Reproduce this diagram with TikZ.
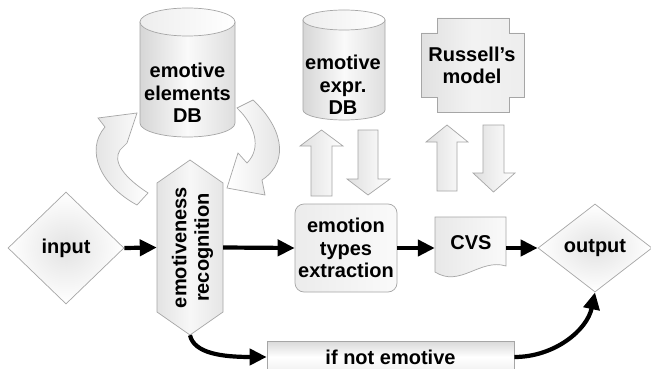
\documentclass[tikz,border=0pt]{standalone}
\usepackage{fontspec}
\setmainfont{Liberation Sans}
\usetikzlibrary{shapes.geometric,arrows.meta,calc}
\begin{document}
\begin{tikzpicture}[x=1pt,y=-1pt,
  lbl/.style={font=\fontsize{20}{22.5}\selectfont\bfseries, align=center, inner sep=0pt},
  edgecol/.style={draw=gray!70, line width=0.7pt},
  conn/.style={line width=4.2pt, -{Triangle[length=17pt,width=16pt]}},
  blkl/.style={edgecol, left color=gray!25, right color=white},
  blkr/.style={edgecol, left color=white, right color=gray!25},
  cylbody/.style={edgecol, left color=gray!32, right color=gray!26, middle color=gray!4},
  cyltop/.style={edgecol, left color=gray!14, right color=white},
  dia/.style={diamond, draw=gray!70, line width=0.7pt, inner sep=0pt, shading=radial, inner color=gray!22, outer color=white}
]
\useasboundingbox[fill=white] (0,0) rectangle (651,369);

% ---- cylinder 1: emotive elements DB
\path[cylbody] (140,22) -- (140,123) arc[start angle=180,end angle=0,x radius=47.5,y radius=14] -- (235,22) -- cycle;
\path[cyltop] (187.5,22) ellipse[x radius=47.5,y radius=14];
\node[lbl] (db1) at (187.5,93) {emotive\\elements\\DB};

% ---- cylinder 2: emotive expr. DB
\path[cylbody] (303,20) -- (303,110) arc[start angle=180,end angle=0,x radius=41,y radius=10] -- (385,20) -- cycle;
\path[cyltop] (344,20) ellipse[x radius=41,y radius=10];
\node[lbl] (db2) at (343,85) {emotive\\expr.\\DB};

% ---- Russell's model
\path[edgecol, left color=gray!24, right color=gray!14, middle color=gray!10]
  (437,18) -- (509,18) -- (509,33) -- (524,33) -- (524,97) -- (509,97) -- (509,112)
  -- (437,112) -- (437,97) -- (421,97) -- (421,33) -- (437,33) -- cycle;
\node[lbl] (russ) at (472,65.5) {Russell’s\\model};

% ---- curved block arrows around DB 1
\path[blkl] (137,205) .. controls (100,185) and (85,150) .. (105,127) -- (98,118) -- (137,113)
  -- (127,143) -- (120,150) .. controls (112,162) and (125,178) .. (148,193) -- cycle;
\path[blkr] (253,100) .. controls (280,125) and (292,160) .. (262,180) -- (265,195) -- (227,188)
  -- (238,153) -- (247,163) .. controls (262,148) and (255,125) .. (237,108) -- cycle;

% ---- straight block arrows
\path[blkl] (311,196) -- (311,146) -- (300,146) -- (321.5,130) -- (343,146) -- (332,146) -- (332,196) -- cycle;
\path[blkl] (358,130) -- (378,130) -- (378,179) -- (390,179) -- (368,195) -- (347,179) -- (358,179) -- cycle;
\path[blkl] (437,191) -- (437,142) -- (426,142) -- (447,125) -- (468,142) -- (457,142) -- (457,191) -- cycle;
\path[blkl] (483,125) -- (504,125) -- (504,173) -- (515,173) -- (493.5,192) -- (473,173) -- (483,173) -- cycle;

% ---- main row
\node[dia, lbl, aspect=1.04, minimum width=116pt, minimum height=112pt] (input) at (66,248) {input};

\path[edgecol, left color=gray!22, right color=gray!20, middle color=gray!6]
  (190,160) -- (223,183) -- (223,312) -- (190,335) -- (157,312) -- (157,183) -- cycle;
\node[minimum width=66pt, minimum height=175pt, inner sep=0pt] (rec) at (190,247.5) {};
\node[lbl, rotate=90] (reclbl) at (192.5,247.5) {emotiveness\\recognition};

\node[lbl, draw=gray!70, line width=0.7pt, rounded corners=9pt, minimum width=102pt, minimum height=88pt,
  left color=gray!15, right color=gray!4] (ext) at (346,248) {emotion\\types\\extraction};

\path[edgecol, left color=gray!18, right color=gray!4]
  (435,217) -- (506,217) -- (506,266) .. controls (480,258) and (460,288) .. (435,272) -- cycle;
\node[minimum width=71pt, minimum height=50pt, inner sep=0pt] (cvs) at (470.5,248) {};
\node[lbl] (cvslbl) at (471,243) {CVS};

\node[dia, lbl, aspect=1.3, minimum width=114pt, minimum height=88pt] (output) at (595,248) {output};

\node[lbl, draw=gray!70, line width=0.7pt, minimum width=247pt, minimum height=32pt,
  top color=gray!30, bottom color=gray!12, middle color=white] (notemo) at (390.5,357) {if not emotive};

% ---- connectors
\draw[conn] (input.east) -- (rec.west);
\draw[conn] (rec.east) -- (ext.west);
\draw[conn] (ext.east) -- (cvs.west);
\draw[conn] (cvs.east) -- (output.west);
\draw[conn] (rec.south) .. controls +(4,18) and +(-45,0) .. (notemo.west);
\draw[conn] (notemo.east) .. controls +(40,0) and +(-8,38) .. (output.south);
\end{tikzpicture}
\end{document}
